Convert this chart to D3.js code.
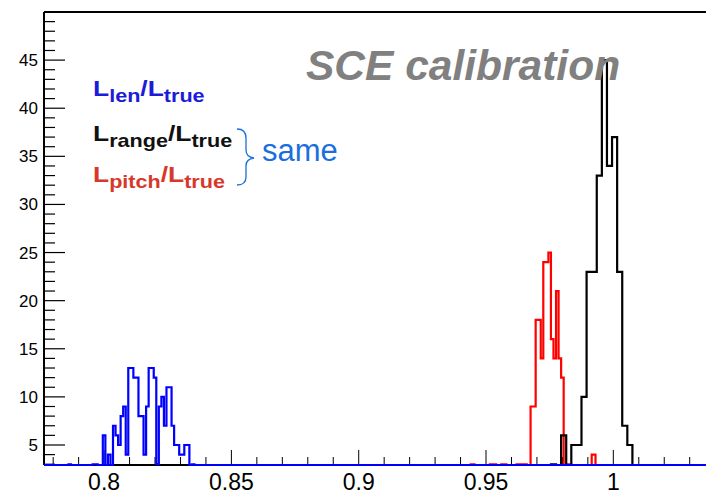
<!DOCTYPE html>
<html><head><meta charset="utf-8">
<script src="https://cdn.jsdelivr.net/npm/d3@7"></script>
<style>body{margin:0;background:#fff}svg{display:block}</style>
</head><body>
<script>
// ---- data ----
const xDomain = [0.7764, 1.0364];
const yDomain = [2.92, 50];
const xTickMajor = [0.8, 0.85, 0.9, 0.95, 1];
const xTickLabels = ["0.8", "0.85", "0.9", "0.95", "1"];
const yTickMajor = [5, 10, 15, 20, 25, 30, 35, 40, 45];
// blue: L_len / L_true, bins of 0.001 starting at blueStart
const blueStart = 0.7955, blueWidth = 0.001;
const blueCounts = [3,3,0,0,6,2,4,1,7,6,5,8,9,4,13,13,12,12,8,8,4,9,13,13,12,3,9,10,7,11,11,7,5,5,4,4,5,5,2,3];
const blueExtra = [[0.7860,0.7870,3]];
// red: L_pitch / L_true
const redStart = 0.9675, redWidth = 0.001;
const redCounts = [9,9,18,18,14,24,24,25,16,14,21,14,12,2,3,3];
const redExtra = [[0.9440,0.9455,3],[0.9515,0.9540,3],[0.9560,0.9580,3],[0.9620,0.9660,3],[0.9915,0.9930,4]];
// black: L_range / L_true, bins of 0.002
const blackStart = 0.9755, blackWidth = 0.002;
const blackCounts = [3,0,6,0,5,5,10,23,23,33,45,34,37,23,7,5];

const W = 706, H = 494;
const FONT = "Liberation Sans, Arial, Helvetica, sans-serif";
const svg = d3.select("body").append("svg").attr("width", W).attr("height", H);
const x = d3.scaleLinear().domain(xDomain).range([44, 706]);
const y = d3.scaleLinear().domain(yDomain).range([465, 12]);
const yc = v => y(Math.max(yDomain[0], Math.min(yDomain[1], v)));

function binsFrom(start, width, counts, extra) {
  const b = counts.map((c, i) => ({x0: start + i * width, x1: start + (i + 1) * width, c}));
  (extra || []).forEach(e => b.push({x0: e[0], x1: e[1], c: e[2]}));
  b.sort((a, b2) => a.x0 - b2.x0);
  return b;
}
function histPath(bins) {
  const pts = [[xDomain[0], 0]];
  let prev = xDomain[0];
  bins.forEach(b => {
    if (b.x0 > prev + 1e-9) { pts.push([prev, 0]); pts.push([b.x0, 0]); }
    pts.push([b.x0, b.c]); pts.push([b.x1, b.c]);
    prev = b.x1;
  });
  pts.push([prev, 0]); pts.push([xDomain[1] + 0.01, 0]);
  return d3.line().x(d => x(d[0])).y(d => yc(d[1]))(pts);
}

// axes frame
const frame = svg.append("g").attr("stroke", "#000").attr("fill", "none");
frame.append("path").attr("d", `M${x(xDomain[0])},${y(yDomain[1])}H${W+5}`).attr("stroke-width", 2);
frame.append("path").attr("d", `M${x(xDomain[0])},${y(yDomain[1])}V${y(yDomain[0])}`).attr("stroke-width", 2);
frame.append("path").attr("d", `M${x(xDomain[0])},${y(yDomain[0])}H${W+5}`).attr("stroke-width", 2);

// y ticks
const yMinor = d3.range(3, 50, 1);
svg.append("g").selectAll("line").data(yMinor).join("line")
  .attr("x1", x(xDomain[0])).attr("x2", d => x(xDomain[0]) + (d % 5 === 0 ? 21 : 11))
  .attr("y1", d => y(d)).attr("y2", d => y(d)).attr("stroke", "#000").attr("stroke-width", 1.2);
svg.append("g").selectAll("text").data(yTickMajor).join("text")
  .attr("x", 38).attr("y", d => y(d) + 6).attr("text-anchor", "end")
  .attr("font-family", FONT).attr("font-size", 17).text(d => d);
// x ticks
const xMinor = d3.range(0.78, 1.04, 0.01);
svg.append("g").selectAll("line").data(xMinor).join("line")
  .attr("x1", d => x(d)).attr("x2", d => x(d)).attr("y1", y(yDomain[0]))
  .attr("y2", d => y(yDomain[0]) - (Math.abs(Math.round(d * 100) % 5) === 0 ? 15 : 8))
  .attr("stroke", "#000").attr("stroke-width", 1);
svg.append("g").selectAll("text").data(xTickMajor).join("text")
  .attr("x", d => x(d)).attr("y", 490).attr("text-anchor", "middle")
  .attr("font-family", FONT).attr("font-size", 23)
  .text((d, i) => xTickLabels[i]);

// histograms
const plot = svg.append("g").attr("fill", "none").attr("stroke-width", 2.2).attr("stroke-linejoin", "miter");
plot.append("path").attr("d", histPath(binsFrom(redStart, redWidth, redCounts, redExtra))).attr("stroke", "#ff0000");
plot.append("path").attr("d", histPath(binsFrom(blackStart, blackWidth, blackCounts))).attr("stroke", "#000");
plot.append("path").attr("d", histPath(binsFrom(blueStart, blueWidth, blueCounts, blueExtra))).attr("stroke", "#0000ff");

// title
svg.append("text").attr("x", 306).attr("y", 80)
  .attr("font-family", FONT).attr("font-weight", "bold").attr("font-style", "italic")
  .attr("font-size", 42.5).attr("fill", "#808080").text("SCE calibration");

// legend labels
function legend(yb, sub, color) {
  const t = svg.append("text").attr("transform", `translate(93,${yb}) scale(1.2,1)`)
    .attr("font-family", FONT).attr("font-weight", "bold").attr("fill", color);
  t.append("tspan").attr("font-size", 22).text("L");
  t.append("tspan").attr("font-size", 18).attr("dy", 6).text(sub);
  t.append("tspan").attr("font-size", 22).attr("dy", -6).text("/");
  t.append("tspan").attr("font-size", 22).text("L");
  t.append("tspan").attr("font-size", 18).attr("dy", 6).text("true");
}
legend(96, "len", "#1c1cd8");
legend(141, "range", "#111111");
legend(182, "pitch", "#d8382a");

// brace
svg.append("path")
  .attr("d", "M237,129 Q246,129 246,138 L246,150 Q246,157 254,158 Q246,159 246,166 L246,177 Q246,185 237,185")
  .attr("fill", "none").attr("stroke", "#1a6fdc").attr("stroke-width", 1.3);
svg.append("text").attr("x", 262).attr("y", 161)
  .attr("font-family", FONT).attr("font-size", 31).attr("fill", "#1a6fdc").text("same");
</script>
</body></html>
